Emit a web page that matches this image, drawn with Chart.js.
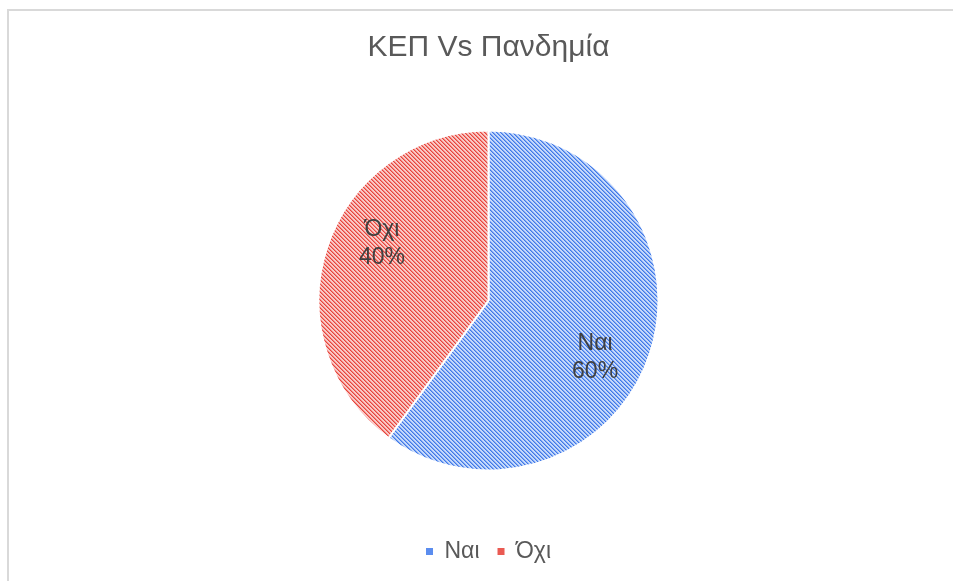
<!DOCTYPE html>
<html>
<head>
<meta charset="utf-8">
<script src="https://cdn.jsdelivr.net/npm/chart.js@4/dist/chart.umd.min.js"></script>
<style>
  html, body { margin: 0; padding: 0; background: #ffffff; overflow: hidden; }
  #frame {
    position: absolute; left: 7px; top: 9px; width: 944px; height: 572px;
    border-top: 2px solid #d9d9d9; border-left: 2px solid #d9d9d9;
  }
  #wrap { position: absolute; left: 0; top: 0; width: 953px; height: 581px; }
</style>
</head>
<body>
<div id="frame"></div>
<div id="wrap"><canvas id="pieChart"></canvas></div>
<script>
const chartTitle = "ΚΕΠ Vs Πανδημία";
const categories = ["Ναι", "Όχι"];
const shares = [60, 40];

const FONT = "'Liberation Sans', Arial, sans-serif";

// diagonal hatch, like the excel "wide downward diagonal" fill
function hatch(dark, mid, light) {
    const s = 4;
    const c = document.createElement("canvas");
    c.width = s;
    c.height = s;
    const g = c.getContext("2d");
    g.fillStyle = light;
    g.fillRect(0, 0, s, s);
    for (let y = 0; y < s; y++) {
        g.fillStyle = dark;
        g.fillRect(y, y, 1, 1);
        g.fillStyle = mid;
        g.fillRect((y + 1) % s, y, 1, 1);
    }
    return g.createPattern(c, "repeat");
}

const fills = [
    hatch("#3f78e8", "#7fa7f2", "#c6d9fa"),
    hatch("#e8443b", "#f08680", "#f9c9c6")
];
const swatches = ["#5b8def", "#ea5a52"];

// labels inside the slices: name + percent
const sliceLabels = {
    id: "sliceLabels",
    afterDatasetsDraw(chart) {
        const ctx = chart.ctx;
        const meta = chart.getDatasetMeta(0);
        const total = shares.reduce((a, b) => a + b, 0);
        ctx.save();
        ctx.font = "23px " + FONT;
        ctx.fillStyle = "#404040";
        ctx.textAlign = "center";
        ctx.textBaseline = "middle";
        meta.data.forEach((arc, i) => {
            const p = arc.getProps(["x", "y", "startAngle", "endAngle", "outerRadius"], true);
            const mid = (p.startAngle + p.endAngle) / 2 + 10 * Math.PI / 180;
            const r = p.outerRadius * 0.71;
            const x = p.x + Math.cos(mid) * r;
            const y = p.y + Math.sin(mid) * r;
            ctx.fillText(categories[i], x, y - 14);
            ctx.fillText(Math.round(shares[i] / total * 100) + "%", x, y + 14);
        });
        ctx.restore();
    }
};

new Chart(document.getElementById("pieChart"), {
    type: "pie",
    data: {
        labels: categories,
        datasets: [{
            data: shares,
            backgroundColor: fills,
            borderColor: "#ffffff",
            borderWidth: 2,
            radius: 170
        }]
    },
    options: {
        responsive: true,
        maintainAspectRatio: false,
        animation: false,
        events: [],
        layout: {
            padding: { left: 24, bottom: 8 }
        },
        plugins: {
            title: {
                display: true,
                text: chartTitle,
                color: "#595959",
                font: { family: FONT, size: 30, weight: "normal" },
                padding: { top: 30, bottom: 13 }
            },
            legend: {
                position: "bottom",
                labels: {
                    color: "#595959",
                    font: { family: FONT, size: 23 },
                    boxWidth: 7,
                    boxHeight: 7,
                    padding: 18,
                    generateLabels: function () {
                        return categories.map((name, i) => ({
                            text: name,
                            fillStyle: swatches[i],
                            strokeStyle: swatches[i],
                            fontColor: "#595959",
                            lineWidth: 0,
                            index: i
                        }));
                    }
                }
            },
            tooltip: { enabled: false }
        }
    },
    plugins: [sliceLabels]
});
</script>
</body>
</html>
